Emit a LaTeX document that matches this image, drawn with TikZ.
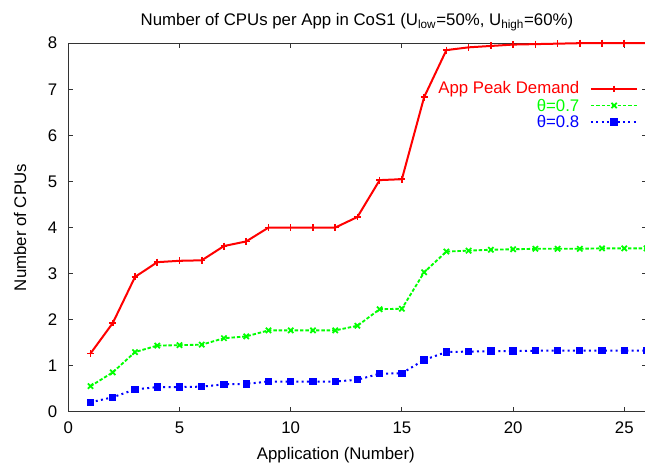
\documentclass[tikz,border=0pt]{standalone}
\usepackage{fontspec}
\setmainfont{Liberation Sans}
\usetikzlibrary{plotmarks}
\definecolor{gpred}{RGB}{255,0,0}
\definecolor{gpgreen}{RGB}{0,255,0}
\definecolor{gpblue}{RGB}{0,0,255}
\tikzset{every picture/.style={line width=0.75pt}}
\tikzset{
  ticlabel/.style={inner sep=0pt, font=\fontsize{12.6}{15}\selectfont},
  frametick/.style={draw=black!80, line width=0.75pt},
  peakcurve/.style={draw=gpred, line width=1.5pt, mark=+, mark size=2.6pt, mark options={solid, line width=1.2pt}},
  thetaseven/.style={draw=gpgreen, line width=1.4pt, dash pattern=on 2.6pt off 1.4pt, mark=x, mark size=2.8pt, mark options={solid, line width=1.3pt}},
  thetaeight/.style={draw=gpblue, line width=1.5pt, dash pattern=on 1.5pt off 2.5pt, mark=square*, mark size=2.0pt, mark options={solid, fill=gpblue}}
}

\begin{document}
\begin{tikzpicture}[x=16.68pt,y=34.575pt]
\useasboundingbox (-3.071,-1.193) rectangle (25.931,8.937);

%Frame and tics
\draw[frametick] (0,0) rectangle (26,8);
\foreach \x in {0,5,...,25} {
  \draw[frametick] (\x,0) -- (\x,0.108);
  \draw[frametick] (\x,8) -- (\x,7.892);
  \node[ticlabel, anchor=north] (xtic\x) at (\x,-0.2) {\x};
}
\foreach \y in {0,...,8} {
  \draw[frametick] (0,\y) -- (0.225,\y);
  \draw[frametick] (26,\y) -- (25.775,\y);
  \node[ticlabel, anchor=east] (ytic\y) at (-0.48,\y) {\y};
}

%Curves
\draw[thetaeight] plot coordinates {(1,0.21) (2,0.32) (3,0.49) (4,0.54) (5,0.54) (6,0.55) (7,0.60) (8,0.61) (9,0.66) (10,0.66) (11,0.66) (12,0.66) (13,0.70) (14,0.83) (15,0.84) (16,1.13) (17,1.30) (18,1.31) (19,1.32) (20,1.32) (21,1.33) (22,1.33) (23,1.33) (24,1.33) (25,1.33) (26,1.33)};
\draw[thetaseven] plot coordinates {(1,0.56) (2,0.86) (3,1.30) (4,1.44) (5,1.45) (6,1.46) (7,1.60) (8,1.64) (9,1.77) (10,1.77) (11,1.77) (12,1.77) (13,1.87) (14,2.23) (15,2.24) (16,3.03) (17,3.48) (18,3.50) (19,3.52) (20,3.53) (21,3.54) (22,3.54) (23,3.54) (24,3.55) (25,3.55) (26,3.55)};
\draw[peakcurve] plot coordinates {(1,1.27) (2,1.93) (3,2.93) (4,3.25) (5,3.28) (6,3.29) (7,3.60) (8,3.70) (9,4.00) (10,4.00) (11,4.00) (12,4.00) (13,4.23) (14,5.03) (15,5.05) (16,6.83) (17,7.85) (18,7.91) (19,7.94) (20,7.97) (21,7.98) (22,7.99) (23,8.00) (24,8.00) (25,8.00) (26,8.00)};

%Key
\node[ticlabel, anchor=east, text=gpred] (keypeak) at (23.0,7.007) {App Peak Demand};
\draw[peakcurve, mark indices={2}] plot coordinates {(23.5,7.007) (24.54,7.007) (25.57,7.007)};
\node[ticlabel, anchor=east, text=gpgreen] (keyseven) at (23.0,6.649) {θ=0.7};
\draw[thetaseven, mark indices={2}] plot coordinates {(23.5,6.649) (24.54,6.649) (25.57,6.649)};
\node[ticlabel, anchor=east, text=gpblue] (keyeight) at (23.0,6.291) {θ=0.8};
\draw[thetaeight, mark indices={2}] plot coordinates {(23.5,6.291) (24.54,6.291) (25.57,6.291)};

% Text Node
\node[ticlabel, anchor=base] (title) at (12.98,8.384) {Number of CPUs per App in CoS1 (U\textsubscript{low}=50\%, U\textsubscript{high}=60\%)};
% Text Node
\node[ticlabel] (xlabel) at (12.03,-0.93) {Application (Number)};
% Text Node
\node[ticlabel, rotate=90] (ylabel) at (-2.171,4) {Number of CPUs};
\end{tikzpicture}
\end{document}
